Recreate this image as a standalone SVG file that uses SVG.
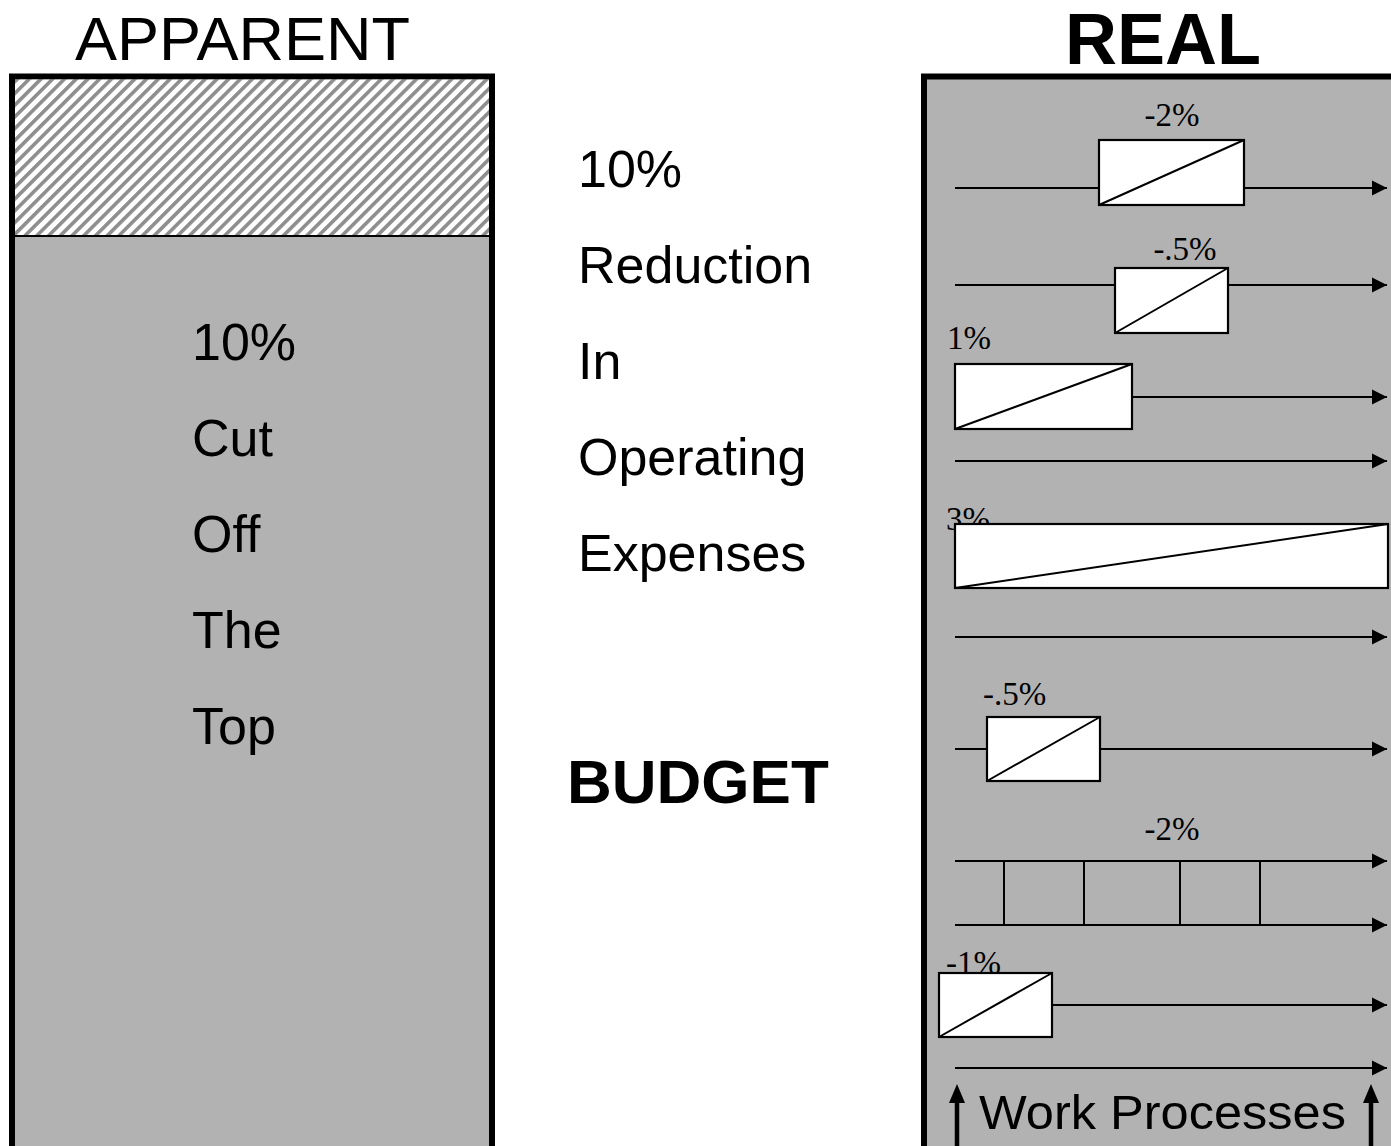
<svg xmlns="http://www.w3.org/2000/svg" width="1391" height="1146" viewBox="0 0 1391 1146">
  <style>
    .sans { font-family: "Liberation Sans", Arial, sans-serif; fill: #000; }
    .word { font-size: 52px; }
    .serif { font-family: "Liberation Serif", "Times New Roman", serif; font-size: 33px; fill: #000; }
    .panel { fill: #b2b2b2; stroke: #000; stroke-width: 6; }
    .box { fill: #fff; stroke: #000; stroke-width: 2.2; }
    .diag { stroke: #000; stroke-width: 2; fill: none; }
    .flow { stroke: #000; stroke-width: 2; fill: none; marker-end: url(#head); }
    .rung { stroke: #000; stroke-width: 2; }
    .up { stroke: #000; stroke-width: 4.5; }
  </style>
  <defs>
    <pattern id="hatch" width="8.3" height="8.3" patternUnits="userSpaceOnUse" patternTransform="rotate(45)">
      <rect width="8.3" height="8.3" fill="#fff"/>
      <rect x="0" y="0" width="3.6" height="8.3" fill="#8e8e8e"/>
    </pattern>
    <marker id="head" markerUnits="userSpaceOnUse" markerWidth="16" markerHeight="16" refX="15" refY="8" orient="auto">
      <path d="M0,0.5 L15,8 L0,15.5 Z" fill="#000"/>
    </marker>
  </defs>

  <rect width="1391" height="1146" fill="#fff"/>

  <!-- Left column: apparent budget -->
  <g id="apparent">
    <text class="sans" x="75" y="60" font-size="62" textLength="335" lengthAdjust="spacingAndGlyphs">APPARENT</text>
    <rect class="panel" x="12" y="76.5" width="480" height="1100"/>
    <rect x="15" y="79.5" width="474" height="156" fill="url(#hatch)"/>
    <line x1="15" y1="236" x2="489" y2="236" stroke="#000" stroke-width="2"/>
    <g class="sans word">
      <text x="192" y="360">10%</text>
      <text x="192" y="456">Cut</text>
      <text x="192" y="552">Off</text>
      <text x="192" y="648">The</text>
      <text x="192" y="744">Top</text>
    </g>
  </g>

  <!-- Middle column -->
  <g id="caption" class="sans word">
    <text x="578" y="187">10%</text>
    <text x="578" y="283">Reduction</text>
    <text x="578" y="379">In</text>
    <text x="578" y="475">Operating</text>
    <text x="578" y="571">Expenses</text>
  </g>
  <g id="budget">
    <text class="sans" x="567" y="803" font-size="62" font-weight="bold">BUDGET</text>
  </g>

  <!-- Right column: real budget -->
  <g id="real">
    <text class="sans" x="1065" y="64" font-size="72" font-weight="bold">REAL</text>
    <rect class="panel" x="924" y="76.5" width="520" height="1100"/>
  </g>

  <!-- Flow lines through the work processes -->
  <g id="connectors">
    <line class="flow" x1="955" y1="188" x2="1099" y2="188" style="marker-end:none"/>
    <line class="flow" x1="1244" y1="188" x2="1387" y2="188"/>
    <line class="flow" x1="955" y1="285" x2="1115" y2="285" style="marker-end:none"/>
    <line class="flow" x1="1228" y1="285" x2="1387" y2="285"/>
    <line class="flow" x1="1132" y1="397" x2="1387" y2="397"/>
    <line class="flow" x1="955" y1="461" x2="1387" y2="461"/>
    <line class="flow" x1="955" y1="637" x2="1387" y2="637"/>
    <line class="flow" x1="955" y1="749" x2="987" y2="749" style="marker-end:none"/>
    <line class="flow" x1="1100" y1="749" x2="1387" y2="749"/>
    <line class="flow" x1="955" y1="861" x2="1387" y2="861"/>
    <line class="flow" x1="955" y1="925" x2="1387" y2="925"/>
    <line class="rung" x1="1004" y1="861" x2="1004" y2="925"/>
    <line class="rung" x1="1084" y1="861" x2="1084" y2="925"/>
    <line class="rung" x1="1180" y1="861" x2="1180" y2="925"/>
    <line class="rung" x1="1260" y1="861" x2="1260" y2="925"/>
    <line class="flow" x1="1052" y1="1005" x2="1387" y2="1005"/>
    <line class="flow" x1="955" y1="1068" x2="1387" y2="1068"/>
    <line class="up" x1="957" y1="1146" x2="957" y2="1100"/>
    <polygon points="957,1084 949,1103 965,1103" fill="#000"/>
    <line class="up" x1="1371" y1="1146" x2="1371" y2="1100"/>
    <polygon points="1371,1084 1363,1103 1379,1103" fill="#000"/>
  </g>

  <!-- Cut boxes -->
  <g id="cut-1">
    <text class="serif" x="1172" y="126" text-anchor="middle">-2%</text>
    <rect class="box" x="1099" y="140" width="145" height="65"/>
    <line class="diag" x1="1099" y1="205" x2="1244" y2="140"/>
  </g>
  <g id="cut-2">
    <text class="serif" x="1185" y="260" text-anchor="middle">-.5%</text>
    <rect class="box" x="1115" y="268" width="113" height="65"/>
    <line class="diag" x1="1115" y1="333" x2="1228" y2="268"/>
  </g>
  <g id="cut-3">
    <text class="serif" x="947" y="349">1%</text>
    <rect class="box" x="955" y="364" width="177" height="65"/>
    <line class="diag" x1="955" y1="429" x2="1132" y2="364"/>
  </g>
  <g id="cut-4">
    <text class="serif" x="946" y="530">3%</text>
    <rect class="box" x="955" y="524" width="433" height="64"/>
    <line class="diag" x1="955" y1="588" x2="1388" y2="524"/>
  </g>
  <g id="cut-5">
    <text class="serif" x="983" y="705">-.5%</text>
    <rect class="box" x="987" y="717" width="113" height="64"/>
    <line class="diag" x1="987" y1="781" x2="1100" y2="717"/>
  </g>
  <g id="cut-6">
    <text class="serif" x="1172" y="840" text-anchor="middle">-2%</text>
  </g>
  <g id="cut-7">
    <text class="serif" x="946" y="974">-1%</text>
    <rect class="box" x="939" y="973" width="113" height="64"/>
    <line class="diag" x1="939" y1="1037" x2="1052" y2="973"/>
  </g>

  <g id="work-processes">
    <text class="sans" x="979" y="1129" font-size="49" textLength="367" lengthAdjust="spacingAndGlyphs">Work Processes</text>
  </g>
</svg>
